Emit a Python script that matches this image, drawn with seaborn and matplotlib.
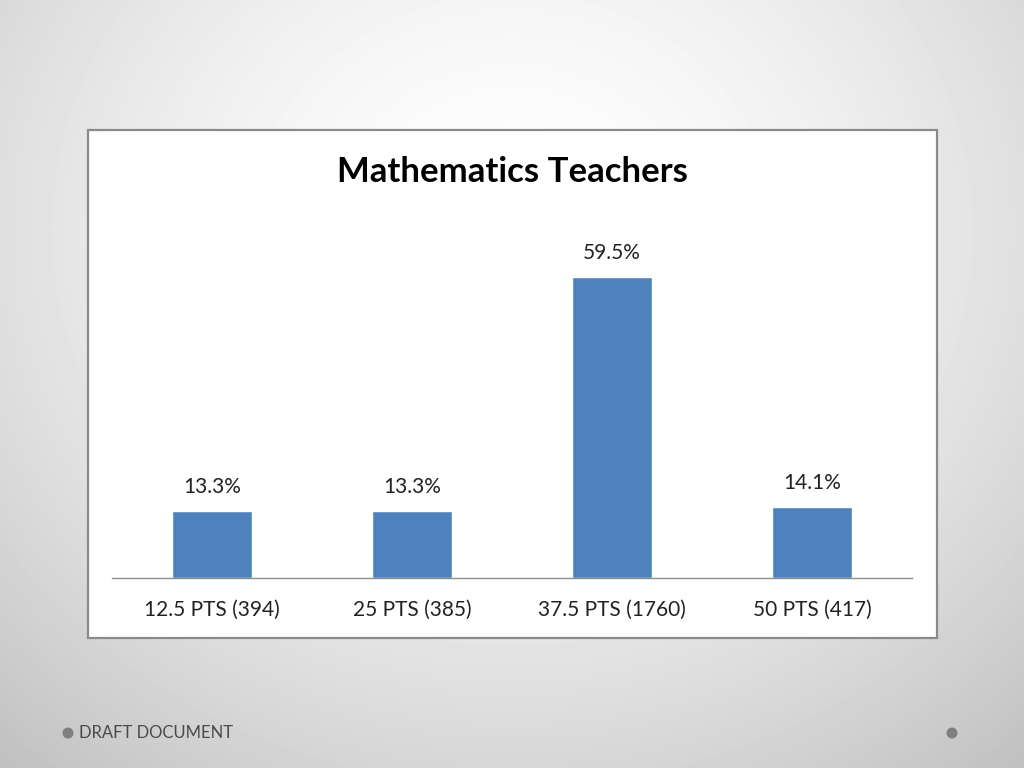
"""Mathematics Teachers bar chart on a slide-style background."""

import matplotlib

matplotlib.use("Agg")

import matplotlib.pyplot as plt
from matplotlib.patches import Ellipse, Rectangle
import numpy as np
import pandas as pd
import seaborn as sns

CATEGORIES = ["12.5 PTS (394)", "25 PTS (385)", "37.5 PTS (1760)", "50 PTS (417)"]
PERCENTS = [13.3, 13.3, 59.5, 14.1]
TITLE = "Mathematics Teachers"
FOOTER = "DRAFT DOCUMENT"
BAR_COLOR = "#4F81BD"

sns.set_theme(style="white")
plt.rcParams["font.family"] = ["Lato", "DejaVu Sans"]

fig = plt.figure(figsize=(10.24, 7.68), dpi=100)

# slide background: soft radial gradient
bg = fig.add_axes([0, 0, 1, 1], zorder=0)
yy, xx = np.mgrid[0:768, 0:1024]
dist = np.sqrt(((xx - 512) / 620) ** 2 + ((yy - 230) / 560) ** 2)
shade = 1.0 - 0.17 * np.clip(dist, 0, 1.3) ** 1.6
bg.imshow(shade, cmap="gray", vmin=0, vmax=1, extent=[0, 1, 0, 1],
          aspect="auto", origin="upper", interpolation="bilinear")
bg.set_xlim(0, 1)
bg.set_ylim(0, 1)
bg.axis("off")

# white chart frame
fig.patches.append(Rectangle((88 / 1024, 1 - 638 / 768), (937 - 88) / 1024,
                             (638 - 130) / 768, transform=fig.transFigure,
                             facecolor="white", edgecolor="#8a8a8a",
                             linewidth=1.6, zorder=1))

# footer bullets and text
for bx in (68, 952):
    fig.patches.append(Ellipse((bx / 1024, 1 - 733 / 768), 11 / 1024, 11 / 768,
                               transform=fig.transFigure, facecolor="#7f7f7f",
                               edgecolor="none", zorder=2))
fig.text(79 / 1024, 1 - 733 / 768, FOOTER, ha="left", va="center",
         fontsize=12, color="#4a4a4a", zorder=3)

fig.text(512 / 1024, 1 - 172 / 768, TITLE, ha="center", va="center",
         fontsize=25, fontweight="bold", color="black", zorder=3)

ax = fig.add_axes([112 / 1024, 1 - 578 / 768, 800 / 1024, 354 / 768], zorder=2)
ax.patch.set_alpha(0)
data = pd.DataFrame({"category": CATEGORIES, "percent": PERCENTS})
sns.barplot(data=data, x="category", y="percent", color=BAR_COLOR,
            saturation=1, width=0.4, ax=ax)
ax.set_xlim(-0.5, 3.5)
ax.set_ylim(0, 70)
for bar, value in zip(ax.patches, PERCENTS):
    ax.annotate(f"{value:.1f}%", (bar.get_x() + bar.get_width() / 2, bar.get_height()),
                xytext=(0, 10), textcoords="offset points", ha="center",
                va="bottom", fontsize=15, color="#222222")
ax.set_xlabel("")
ax.set_ylabel("")
ax.set_yticks([])
ax.tick_params(axis="x", length=0, pad=16, labelsize=15, labelcolor="#222222")
for side in ["top", "right", "left"]:
    ax.spines[side].set_visible(False)
ax.spines["bottom"].set_color("#8c8c8c")
ax.spines["bottom"].set_linewidth(1.0)

fig.savefig("out.png", dpi=100)
